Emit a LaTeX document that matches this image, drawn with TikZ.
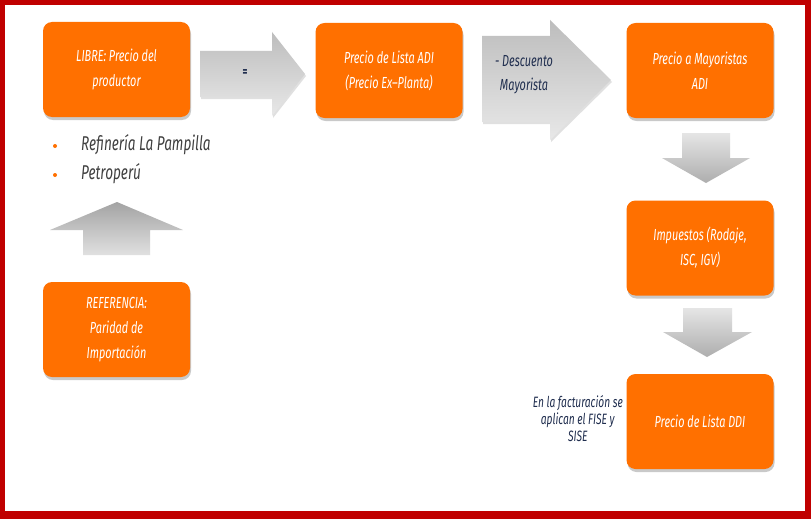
\documentclass[tikz,border=0pt]{standalone}
\usepackage{fontspec}
\setmainfont{Fira Sans}[FakeStretch=0.68]
\usetikzlibrary{shadows}
\definecolor{frame}{RGB}{192,0,0}
\definecolor{boxor}{RGB}{255,112,0}
\definecolor{notec}{RGB}{31,45,78}
\definecolor{bul}{RGB}{64,64,64}
\begin{document}
\begin{tikzpicture}[x=1pt,y=-1pt,
  pbox/.style={rounded corners=9pt, fill=boxor, text=white, align=center,
    font=\fontsize{16}{25}\selectfont\itshape, minimum width=147pt,
    minimum height=95pt, inner sep=0pt,
    drop shadow={shadow xshift=1pt, shadow yshift=-3pt, opacity=0.35, fill=black!60}},
  rarrow/.style={top color=black!26, bottom color=black!9, draw=none,
    drop shadow={shadow xshift=1pt, shadow yshift=-2pt, opacity=0.2, fill=black!60}},
  darrow/.style={top color=black!10, bottom color=black!32, draw=none},
  uarrow/.style={top color=black!36, bottom color=black!12, draw=none},
  arrowtext/.style={text=notec, align=center, font=\fontsize{16}{24}\selectfont\itshape},
  bullettext/.style={anchor=west, text=bul, font=\fontsize{20}{24}\selectfont\itshape, inner sep=0pt},
  dot/.style={circle, fill=boxor, inner sep=0pt, minimum size=4pt}]
\useasboundingbox (0,0) rectangle (811,519);
\fill[frame] (0,0) rectangle (811,519);
\fill[white] (5,5) rectangle (805,511);

% block arrows
\path[rarrow] (200,51) -- (272,51) -- (272,32) -- (305,74) -- (272,116) -- (272,97) -- (200,97) -- cycle;
\path[rarrow] (482,36) -- (550,36) -- (550,20) -- (611,80) -- (550,140) -- (550,122) -- (482,122) -- cycle;
\path[darrow] (682,133) -- (730,133) -- (730,158) -- (750,158) -- (706,183) -- (662,158) -- (682,158) -- cycle;
\path[darrow] (683,308) -- (732,308) -- (732,332) -- (752,332) -- (707,357) -- (663,332) -- (683,332) -- cycle;
\path[uarrow] (83,255) -- (83,230) -- (50,230) -- (117,202) -- (183,230) -- (150,230) -- (150,255) -- cycle;

% boxes
\node[pbox] (libre) at (116.5,69.5) {LIBRE: Precio del\\productor};
\node[pbox] (lista) at (389,70.5) {Precio de Lista ADI\\(Precio Ex–Planta)};
\node[pbox] (mayor) at (700,70.5) {Precio a Mayoristas\\ADI};
\node[pbox] (impu) at (700,248) {Impuestos (Rodaje,\\ISC, IGV)};
\node[pbox] (ddi) at (700,421.5) {Precio de Lista DDI};
\node[pbox] (ref) at (116.5,329.5) {REFERENCIA:\\Paridad de\\Importación};

% arrow labels
\node[arrowtext, font=\fontsize{14}{16}\selectfont\bfseries] (eq) at (245,73) {=};
\node[arrowtext] (desc) at (524,75) {- Descuento\\Mayorista};

% bullets
\node[dot] (d1) at (55,146) {};
\node[dot] (d2) at (55,175) {};
\node[bullettext] (t1) at (81,145) {Refinería La Pampilla};
\node[bullettext] (t2) at (81,174) {Petroperú};

% note
\node[anchor=east, text=notec, align=center, inner sep=0pt,
  font=\fontsize{15}{17}\selectfont\itshape] (note) at (623,419)
  {En la facturación se\\aplican el FISE y\\SISE};
\end{tikzpicture}
\end{document}
